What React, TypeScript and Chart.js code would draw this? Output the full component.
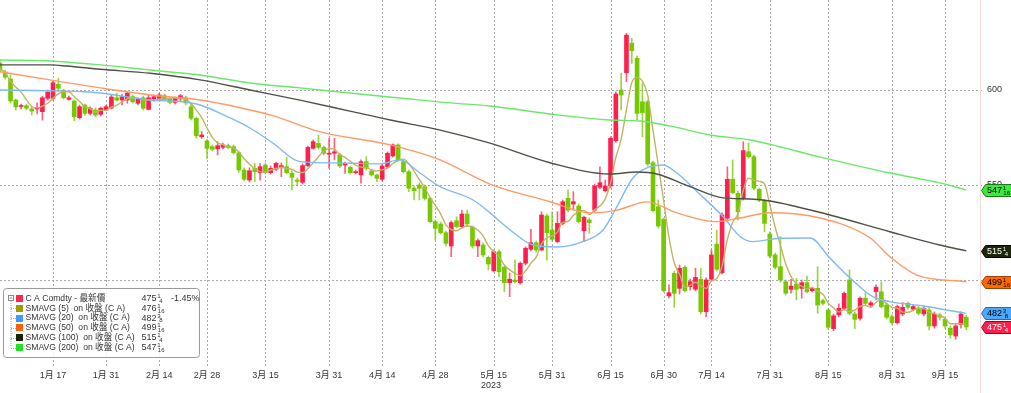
import React, { useEffect, useRef } from "react";
import { Chart, registerables } from "chart.js";
Chart.register(...registerables);

// Trading-day index of the first candle (Dec 30, 2022 = -1, Jan 3, 2023 = 0)
const FIRST_INDEX = -1;

const opens = [
  614.2, 609.5, 605.8, 594.7, 591.3, 591.7, 590.0, 590.0, 588.6, 595.6,
  595.6, 603.0, 599.6, 595.1, 594.2, 585.4, 592.1, 587.7, 589.5, 587.2,
  589.5, 590.5, 595.9, 594.7, 594.7, 596.5, 593.0, 595.9, 589.8, 595.3,
  595.6, 597.0, 595.3, 593.5, 595.3, 595.9, 591.2, 585.1, 575.4, 573.2,
  570.2, 569.0, 569.8, 570.7, 570.2, 567.0, 557.9, 552.6, 558.8, 556.5,
  560.5, 556.5, 558.3, 559.3, 559.6, 556.2, 552.6, 551.4, 560.2, 569.3,
  571.9, 569.8, 566.2, 566.7, 565.8, 560.5, 559.3, 556.5, 555.3, 562.3,
  557.4, 555.3, 553.0, 559.6, 565.3, 571.1, 562.3, 557.0, 548.3, 550.0,
  549.1, 543.0, 530.7, 529.5, 524.9, 517.9, 531.2, 528.1, 534.7, 527.7,
  517.9, 518.4, 511.9, 504.9, 514.9, 506.7, 498.6, 500.0, 498.6, 508.8,
  516.2, 519.6, 515.8, 533.7, 526.3, 520.2, 529.8, 543.0, 540.0, 538.9,
  525.9, 531.6, 536.8, 548.8, 547.0, 549.5, 573.3, 600.0, 609.1, 624.6,
  616.7, 593.8, 593.8, 561.7, 538.6, 531.9, 491.6, 503.5, 495.6, 506.7,
  496.5, 495.1, 500.4, 483.3, 500.4, 518.9, 503.8, 532.5, 553.0, 545.6,
  543.0, 567.5, 564.9, 547.7, 541.7, 524.2, 513.2, 507.0, 499.1, 495.1,
  497.9, 495.6, 498.6, 494.4, 495.6, 489.1, 484.2, 474.4, 481.6, 485.1,
  500.0, 482.1, 479.8, 490.4, 486.8, 493.9, 493.8, 486.8, 480.7, 477.5,
  482.1, 487.7, 484.6, 485.1, 482.1, 484.2, 475.8, 481.6, 479.3, 474.6,
  470.5, 476.6, 480.4,
];
const highs = [
  615.3, 610.5, 607.9, 595.3, 592.6, 592.6, 591.1, 593.2, 596.8, 600.0,
  604.7, 606.2, 600.5, 596.8, 594.7, 592.1, 592.6, 591.1, 590.5, 591.1,
  592.1, 597.4, 598.3, 597.9, 599.1, 597.4, 595.8, 596.8, 597.4, 597.4,
  598.3, 597.9, 595.8, 596.3, 597.7, 596.8, 593.0, 585.8, 578.1, 574.2,
  571.1, 572.8, 572.1, 571.6, 571.1, 567.9, 559.0, 559.0, 561.4, 561.4,
  561.6, 560.0, 562.1, 561.6, 564.6, 557.4, 553.7, 561.1, 570.5, 573.7,
  576.3, 570.5, 574.6, 574.6, 566.8, 562.1, 560.0, 557.9, 563.2, 564.9,
  558.4, 555.8, 561.1, 567.4, 571.6, 571.6, 563.2, 557.9, 549.5, 551.1,
  550.0, 543.7, 531.6, 530.5, 525.8, 531.1, 533.3, 536.8, 536.8, 528.4,
  521.6, 519.5, 512.6, 515.8, 515.8, 507.4, 503.7, 510.5, 509.5, 517.4,
  526.7, 520.5, 535.9, 534.7, 535.9, 535.9, 542.1, 547.4, 546.5, 540.0,
  533.7, 532.6, 550.5, 559.6, 552.6, 575.3, 599.0, 608.8, 629.8, 627.2,
  617.9, 603.5, 594.7, 562.6, 542.1, 532.6, 497.4, 504.7, 507.9, 507.4,
  500.5, 506.2, 506.2, 501.1, 515.8, 526.3, 535.3, 559.6, 563.2, 546.8,
  572.8, 572.1, 565.8, 548.4, 542.6, 525.3, 514.2, 522.8, 500.0, 500.4,
  500.9, 500.0, 502.1, 496.3, 507.0, 490.0, 484.7, 482.1, 487.4, 493.7,
  505.3, 483.2, 491.1, 493.3, 488.9, 497.4, 499.1, 487.9, 481.6, 486.8,
  488.1, 488.4, 486.8, 486.3, 486.3, 485.3, 483.2, 482.6, 480.5, 475.8,
  476.8, 483.2, 481.6,
];
const lows = [
  609.5, 605.8, 593.2, 589.5, 590.0, 589.5, 586.8, 587.4, 584.2, 594.7,
  594.7, 599.1, 595.3, 594.7, 583.8, 584.7, 586.8, 586.8, 585.8, 586.3,
  589.0, 590.0, 594.2, 592.1, 593.0, 593.2, 592.1, 589.5, 589.5, 594.2,
  595.3, 594.7, 592.6, 592.6, 593.8, 592.1, 584.2, 574.6, 574.6, 564.0,
  567.9, 565.8, 569.0, 569.0, 566.3, 556.8, 552.1, 551.6, 551.8, 552.6,
  555.8, 555.8, 557.4, 554.4, 555.8, 547.4, 549.5, 550.5, 559.5, 568.9,
  568.9, 565.8, 558.8, 563.2, 559.0, 556.1, 555.8, 555.8, 550.9, 557.9,
  554.7, 551.7, 552.1, 558.9, 564.7, 562.6, 556.3, 546.5, 542.1, 542.1,
  542.1, 530.0, 521.1, 524.2, 517.9, 512.3, 527.4, 527.4, 528.4, 516.8,
  512.3, 512.1, 505.3, 504.2, 501.7, 493.8, 491.2, 498.4, 497.9, 507.9,
  515.3, 514.7, 515.3, 510.5, 520.5, 519.5, 529.0, 535.8, 536.8, 530.0,
  520.2, 524.6, 535.8, 547.9, 546.3, 548.4, 572.6, 589.5, 604.4, 614.0,
  584.2, 575.4, 560.0, 535.8, 527.4, 493.7, 490.5, 485.6, 492.6, 493.7,
  494.7, 494.2, 482.1, 480.7, 499.5, 504.7, 503.2, 531.6, 545.3, 531.6,
  542.1, 564.2, 547.4, 541.2, 525.4, 511.6, 505.8, 498.9, 492.1, 493.0,
  489.5, 490.4, 493.2, 493.7, 482.5, 486.8, 474.2, 473.3, 480.5, 484.2,
  481.6, 474.4, 478.9, 486.8, 485.8, 489.5, 485.3, 479.5, 476.8, 476.8,
  481.1, 484.7, 483.7, 481.6, 481.1, 473.7, 474.7, 478.9, 474.7, 469.3,
  468.8, 474.7, 473.7,
];
const closes = [
  610.5, 606.8, 594.2, 591.1, 591.8, 590.4, 588.9, 590.7, 595.9, 598.9,
  603.8, 600.9, 595.9, 595.9, 586.0, 591.2, 587.7, 590.4, 586.8, 590.4,
  591.2, 596.3, 594.7, 596.5, 598.3, 593.8, 595.1, 590.4, 595.9, 596.5,
  597.4, 595.3, 593.5, 595.6, 597.0, 593.2, 585.1, 575.9, 576.3, 569.3,
  568.8, 570.7, 571.1, 569.8, 567.0, 557.9, 553.0, 557.5, 557.0, 559.6,
  556.5, 558.8, 561.4, 560.2, 556.5, 554.0, 551.9, 560.2, 569.8, 572.8,
  569.8, 566.7, 566.7, 567.5, 560.0, 561.4, 556.5, 557.0, 562.3, 558.8,
  555.3, 553.5, 560.0, 566.7, 571.1, 563.2, 557.0, 548.3, 547.0, 548.3,
  543.0, 530.7, 527.2, 524.9, 519.3, 530.2, 528.1, 534.7, 529.5, 517.9,
  520.7, 513.2, 508.4, 514.9, 504.4, 498.6, 500.4, 499.1, 508.8, 516.7,
  519.6, 515.8, 534.2, 524.9, 521.4, 529.8, 541.2, 536.8, 541.2, 530.7,
  533.0, 530.2, 549.5, 551.2, 549.5, 574.6, 597.9, 597.4, 628.9, 620.7,
  587.7, 588.1, 561.1, 536.5, 528.4, 494.4, 493.3, 493.0, 506.1, 494.4,
  499.1, 501.4, 483.3, 500.0, 513.2, 505.6, 534.2, 553.0, 546.0, 535.9,
  568.1, 564.9, 548.3, 542.1, 529.8, 512.6, 506.7, 500.0, 493.0, 496.8,
  495.1, 498.6, 493.8, 495.6, 486.8, 487.7, 475.1, 481.1, 485.1, 493.0,
  482.5, 479.3, 490.4, 487.7, 488.0, 496.2, 485.9, 480.4, 477.5, 486.0,
  485.6, 485.6, 486.0, 482.5, 485.1, 475.8, 482.1, 480.4, 475.8, 471.1,
  475.8, 482.1, 475.25,
];

// SMAVG (5), one value per candle
const sma5 = [
  611.5, 609.0, 604.5, 601.5, 598.9, 594.9, 591.3, 590.6, 591.5, 593.0,
  595.6, 598.0, 599.1, 599.1, 596.5, 594.0, 591.3, 590.2, 588.4, 589.3,
  589.3, 591.0, 591.9, 593.8, 595.4, 595.9, 595.7, 594.8, 594.7, 594.3,
  595.1, 595.1, 595.7, 595.7, 595.8, 594.9, 592.9, 589.4, 585.5, 580.0,
  575.1, 572.2, 571.2, 569.9, 569.5, 567.3, 563.8, 561.0, 558.5, 557.0,
  556.7, 557.9, 558.7, 559.3, 558.7, 558.2, 556.8, 556.6, 558.5, 561.7,
  564.9, 567.9, 569.2, 568.7, 566.1, 564.5, 562.4, 560.5, 559.4, 559.2,
  558.0, 557.4, 558.0, 558.9, 561.3, 562.9, 563.6, 561.3, 557.3, 552.8,
  548.7, 543.5, 539.2, 534.8, 529.0, 526.5, 525.9, 527.4, 528.4, 528.1,
  526.2, 523.2, 517.9, 515.0, 512.3, 507.9, 505.3, 503.5, 502.3, 504.7,
  508.9, 512.0, 519.0, 522.2, 523.2, 525.2, 530.3, 530.8, 534.1, 535.9,
  536.6, 534.4, 536.9, 538.9, 542.7, 551.0, 564.5, 574.1, 589.7, 603.9,
  606.5, 604.6, 597.3, 578.8, 560.4, 541.7, 522.7, 509.1, 503.0, 496.2,
  497.2, 498.8, 496.9, 495.6, 499.4, 500.7, 507.3, 521.2, 530.4, 534.9,
  547.4, 553.6, 552.6, 551.9, 550.6, 539.5, 527.9, 518.2, 508.4, 501.8,
  498.3, 496.7, 495.5, 496.0, 494.0, 492.5, 487.8, 485.3, 483.2, 484.4,
  483.4, 484.2, 486.1, 486.6, 485.6, 488.3, 489.6, 487.6, 485.6, 485.2,
  483.1, 483.0, 484.1, 485.1, 485.0, 483.0, 482.3, 481.2, 479.8, 477.0,
  477.0, 477.0, 476.0,
];

// Longer averages, read at sample positions (trading-day index, value)
const sma20X = [-1, 8.4, 14.7, 17.9, 27.3, 33.5, 36.7, 41.8, 46.1, 50.4, 55.5, 63.1, 70.6, 74.3, 78.1, 81.9, 88.1, 91.3, 95.1, 99.4, 103.9, 108.8, 112.6, 115.2, 118.2, 121.4, 123.9, 126.5, 130.3, 135.2, 138.4, 140.8, 145.9, 151.6, 155.3, 159.1, 163.4, 166.6, 172.9, 177.3, 181];
const sma20Y = [600.0, 599.6, 599.1, 598.4, 594.7, 593.8, 592.1, 586.0, 580.0, 572.1, 562.3, 561.6, 561.1, 563.2, 556.3, 549.1, 542.1, 535.3, 526.3, 518.4, 517.4, 520.2, 526.3, 538.6, 553.7, 559.6, 560.5, 556.3, 546.5, 533.3, 522.9, 520.2, 522.0, 522.1, 511.6, 501.1, 491.2, 488.6, 486.3, 484.2, 482.4];
const sma50X = [-1, 8.4, 17.9, 27.3, 36.7, 46.1, 50.4, 59.2, 72.5, 81.9, 91.3, 102.6, 110.1, 115.2, 120.9, 126.5, 134, 138.4, 144, 153.5, 162.9, 166.6, 171.7, 181];
const sma50Y = [609.6, 605.3, 601.1, 597.4, 594.7, 589.5, 586.5, 578.1, 571.1, 563.2, 550.5, 541.2, 535.3, 536.8, 541.1, 535.3, 530.7, 532.6, 535.4, 532.6, 522.1, 512.3, 502.6, 499.1];
const sma100X = [-1, 8.4, 11.6, 17.9, 27.3, 36.7, 46.1, 55.5, 64.9, 72.5, 81.9, 91.3, 102.6, 113.9, 119, 122.7, 129, 135.2, 140.3, 144, 155.3, 166.6, 176, 181];
const sma100Y = [613.2, 613.2, 612.6, 610.9, 608.8, 605.3, 600.0, 594.7, 588.9, 584.2, 578.9, 572.0, 561.7, 555.8, 556.8, 555.8, 549.1, 543.2, 542.6, 541.6, 534.2, 525.4, 518.4, 515.3];
const sma200X = [-1, 8.4, 17.9, 27.3, 36.7, 46.1, 55.5, 64.9, 74.3, 83.8, 91.3, 102.6, 113.9, 119.5, 125.2, 132.7, 140.3, 153.5, 166.6, 176, 181];
const sma200Y = [615.8, 615.3, 613.2, 610.5, 607.9, 603.7, 601.1, 598.4, 595.8, 593.2, 591.6, 587.4, 584.2, 583.7, 581.1, 576.3, 573.7, 564.7, 556.3, 551.1, 547.4];

// Axis ticks
const tickIndex = [9, 19, 29, 38, 49, 61, 71, 81, 92, 103, 114, 124, 133, 144, 155, 167, 177];
const tickLabels = ["1月 17", "1月 31", "2月 14", "2月 28", "3月 15", "3月 31", "4月 14", "4月 28", "5月 15", "5月 31", "6月 15", "6月 30", "7月 14", "7月 31", "8月 15", "8月 31", "9月 15"];
const yearLabel = "2023";
const yearTickIndex = 91.5;
const yTicks = [500, 550, 600];

// Legend rows: label, swatch color, value integer, value fraction
const legendLabels = ["C A Comdty - 最新價", "SMAVG (5)  on 收盤 (C A)", "SMAVG (20)  on 收盤 (C A)", "SMAVG (50)  on 收盤 (C A)", "SMAVG (100)  on 收盤 (C A)", "SMAVG (200)  on 收盤 (C A)"];
const legendColors = ["#ff2550", "#a09a00", "#3b9cff", "#ff6010", "#182400", "#22e022"];
const legendInts = ["475", "476", "482", "499", "515", "547"];
const legendFracs = ["1/4", "1/16", "3/8", "1/16", "1/4", "1/16"];
const changeLabel = "-1.45%";

const UP = "#ff1f4e";
const DOWN = "#76c800";
const UP_WICK = "rgba(255,40,80,0.75)";
const DOWN_WICK = "rgba(118,200,0,0.75)";

const FONT = "9px 'Liberation Sans', 'Noto Sans CJK TC', sans-serif";
const LEGEND_FONT = "8.6px 'Liberation Sans', 'Noto Sans CJK TC', sans-serif";
const SMALL = "6px 'Liberation Sans', sans-serif";

function pts(xs: number[], ys: number[]) {
  return xs.map((x, k) => ({ x, y: ys[k] }));
}

function drawNum(ctx: CanvasRenderingContext2D, x: number, y: number, intPart: string, frac: string, color: string) {
  ctx.fillStyle = color;
  ctx.font = FONT;
  ctx.textAlign = "left";
  ctx.textBaseline = "middle";
  ctx.fillText(intPart, x, y);
  const w = ctx.measureText(intPart).width;
  const [n, d] = frac.split("/");
  ctx.font = SMALL;
  ctx.fillText(n, x + w + 0.8, y - 2.2);
  ctx.fillText(d, x + w + (d.length > 1 ? 1.3 : 2.8), y + 2.7);
}

const decor = {
  id: "decor",
  beforeDatasetsDraw(chart: any) {
    const { ctx, chartArea: ca, scales } = chart;
    const x = scales.x, y = scales.y;
    ctx.save();
    ctx.strokeStyle = "#a9a9a9";
    ctx.lineWidth = 1;
    ctx.setLineDash([2, 2]);
    tickIndex.forEach((t) => {
      const px = Math.round(x.getPixelForValue(t)) + 0.5;
      ctx.beginPath();
      ctx.moveTo(px, ca.top);
      ctx.lineTo(px, ca.bottom);
      ctx.stroke();
    });
    yTicks.forEach((v) => {
      const py = Math.round(y.getPixelForValue(v)) + 0.5;
      ctx.beginPath();
      ctx.moveTo(ca.left, py);
      ctx.lineTo(ca.right + 4, py);
      ctx.stroke();
    });
    ctx.setLineDash([]);
    ctx.strokeStyle = "#fbd9d9";
    ctx.beginPath();
    ctx.moveTo(Math.round(ca.right) + 0.5, 0);
    ctx.lineTo(Math.round(ca.right) + 0.5, chart.height);
    ctx.stroke();
    ctx.restore();
  },
  afterDraw(chart: any) {
    const { ctx, chartArea: ca, scales } = chart;
    const x = scales.x, y = scales.y;
    ctx.save();
    // x labels
    ctx.font = FONT;
    ctx.fillStyle = "#333";
    ctx.textAlign = "center";
    ctx.textBaseline = "middle";
    tickIndex.forEach((t, k) => {
      ctx.fillText(tickLabels[k], x.getPixelForValue(t), ca.bottom + 9);
    });
    ctx.fillText(yearLabel, x.getPixelForValue(yearTickIndex), ca.bottom + 19);
    // y labels
    ctx.textAlign = "left";
    yTicks.forEach((v) => {
      ctx.fillText(String(v), ca.right + 7, y.getPixelForValue(v));
    });
    // value tags
    const tags = [
      { v: sma200Y[sma200Y.length - 1], i: legendInts[5], f: legendFracs[5], fill: "#3ee83e", stroke: "#1c7a1c", text: "#000" },
      { v: sma100Y[sma100Y.length - 1], i: legendInts[4], f: legendFracs[4], fill: "#1c2608", stroke: "#000", text: "#fff" },
      { v: sma50Y[sma50Y.length - 1], i: legendInts[3], f: legendFracs[3], fill: "#ff6a00", stroke: "#9a4000", text: "#000" },
      { v: sma20Y[sma20Y.length - 1], i: legendInts[2], f: legendFracs[2], fill: "#4aa8ff", stroke: "#2a68a8", text: "#000" },
      { v: closes[closes.length - 1], i: legendInts[0], f: legendFracs[0], fill: "#ff1f4e", stroke: "#a00022", text: "#fff" },
    ];
    tags.forEach((t) => {
      const py = Math.round(y.getPixelForValue(t.v)) + 0.5;
      const x0 = ca.right + 1.5, x1 = ca.right + 5.5, x2 = chart.width + 2, h = 6;
      ctx.beginPath();
      ctx.moveTo(x0, py);
      ctx.lineTo(x1, py - h);
      ctx.lineTo(x2, py - h);
      ctx.lineTo(x2, py + h);
      ctx.lineTo(x1, py + h);
      ctx.closePath();
      ctx.fillStyle = t.fill;
      ctx.fill();
      ctx.strokeStyle = t.stroke;
      ctx.lineWidth = 1;
      ctx.stroke();
      drawNum(ctx, ca.right + 7, py, t.i, t.f, t.text);
    });
    // legend box
    const bx = 3.5, by = 288.5, bw = 196, bh = 69;
    ctx.beginPath();
    ctx.roundRect(bx, by, bw, bh, 3);
    ctx.fillStyle = "rgba(255,255,255,0.82)";
    ctx.fill();
    ctx.strokeStyle = "#9a9a9a";
    ctx.lineWidth = 1;
    ctx.stroke();
    const rowY = [298.5, 308.3, 318.1, 327.9, 337.7, 347.5];
    // expander and tree lines
    ctx.strokeStyle = "#8a8a8a";
    ctx.strokeRect(8.5, 295.5, 5, 5);
    ctx.beginPath();
    ctx.moveTo(9.5, 298); ctx.lineTo(12.5, 298);
    ctx.stroke();
    ctx.setLineDash([1, 1]);
    ctx.strokeStyle = "#aaa";
    ctx.beginPath();
    ctx.moveTo(11, 301); ctx.lineTo(11, rowY[5]);
    rowY.slice(1).forEach((ry) => { ctx.moveTo(11, Math.round(ry) + 0.5); ctx.lineTo(16, Math.round(ry) + 0.5); });
    ctx.stroke();
    ctx.setLineDash([]);
    legendLabels.forEach((lab, k) => {
      const ry = rowY[k];
      ctx.fillStyle = legendColors[k];
      ctx.fillRect(16, Math.round(ry - 3.5), 7, 7);
      ctx.fillStyle = "#333";
      ctx.font = LEGEND_FONT;
      ctx.textAlign = "left";
      ctx.textBaseline = "middle";
      ctx.fillText(lab, 25.5, ry);
      drawNum(ctx, 141.5, ry, legendInts[k], legendFracs[k], "#333");
      if (k === 0) {
        ctx.font = FONT;
        ctx.fillStyle = "#333";
        ctx.fillText(changeLabel, 171, ry);
      }
    });
    ctx.restore();
  },
};

export default function App() {
  const ref = useRef<HTMLCanvasElement>(null);
  useEffect(() => {
    document.body.style.margin = "0";
    const canvas = ref.current;
    if (!canvas) return;
    const xs = opens.map((_, k) => k + FIRST_INDEX);
    const isUp = closes.map((c, k) => c >= opens[k]);
    const line = (label: string, data: any[], color: string, order: number, width = 1.4) => ({
      type: "line" as const,
      label,
      data,
      borderColor: color,
      borderWidth: width,
      pointRadius: 0,
      fill: false,
      cubicInterpolationMode: "monotone" as const,
      order,
    });
    const chart = new Chart(canvas, {
      type: "bar",
      data: {
        datasets: [
          line("SMAVG (200)", pts(sma200X, sma200Y), "#6ae86a", 0),
          line("SMAVG (100)", pts(sma100X, sma100Y), "#4f5044", 0),
          line("SMAVG (50)", pts(sma50X, sma50Y), "#ff9a66", 0),
          line("SMAVG (20)", pts(sma20X, sma20Y), "#7fbaf2", 0),
          line("SMAVG (5)", pts(xs, sma5), "#bfb465", 0),
          {
            type: "bar",
            label: "body",
            data: xs.map((x, k) => ({ x, y: [opens[k], closes[k]] })),
            backgroundColor: isUp.map((u) => (u ? UP : DOWN)),
            barThickness: 4,
            minBarLength: 1,
            grouped: false,
            order: 5,
          },
          {
            type: "bar",
            label: "wick",
            data: xs.map((x, k) => ({ x, y: [lows[k], highs[k]] })),
            backgroundColor: isUp.map((u) => (u ? UP_WICK : DOWN_WICK)),
            barThickness: 1,
            grouped: false,
            order: 6,
          },
        ] as any,
      },
      options: {
        animation: false,
        responsive: false,
        events: [],
        layout: { padding: { left: 0, top: 0, right: 31, bottom: 26 } },
        scales: {
          x: { type: "linear", min: -0.98, max: 183.58, offset: false, display: false },
          y: { type: "linear", min: 454.2, max: 647.37, display: false },
        },
        plugins: { legend: { display: false }, tooltip: { enabled: false } },
      },
      plugins: [decor],
    });
    return () => chart.destroy();
  }, []);
  return (
    <div style={{ position: "absolute", left: 0, top: 0, width: 1011, height: 393, background: "#fff" }}>
      <canvas ref={ref} width={1011} height={393} style={{ display: "block" }} />
    </div>
  );
}
